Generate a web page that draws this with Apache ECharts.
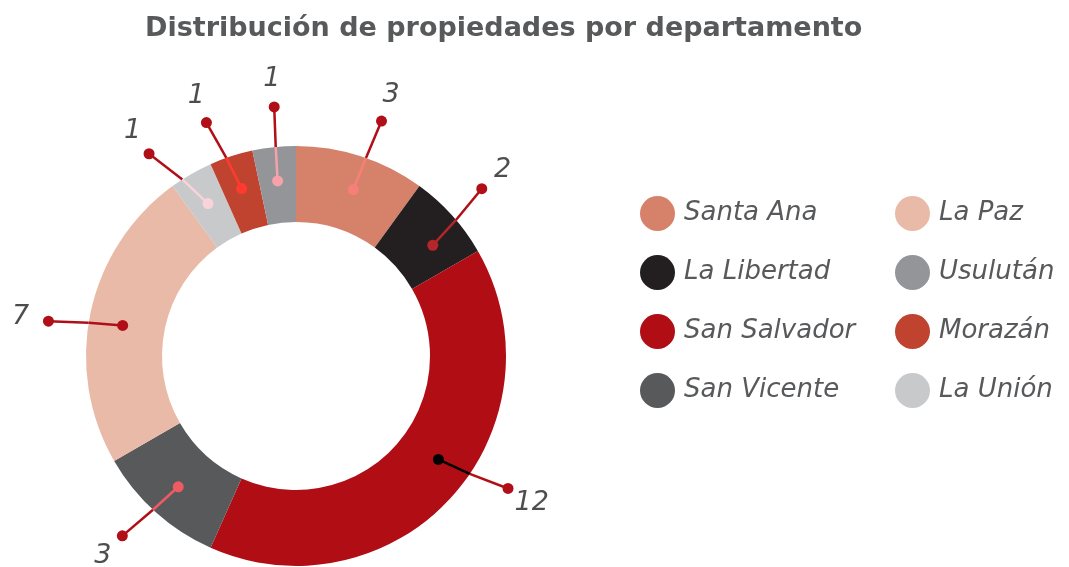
<!DOCTYPE html>
<html>
<head>
<meta charset="utf-8">
<script src="https://cdn.jsdelivr.net/npm/echarts@6/dist/echarts.min.js"></script>
<style>
  html, body { margin: 0; padding: 0; background: #ffffff; }
  #chart { width: 1069px; height: 567px; }
</style>
</head>
<body>
<div id="chart"></div>
<script>
// Departments, in clockwise order from the top of the ring
const categories = ['Santa Ana', 'La Libertad', 'San Salvador', 'San Vicente', 'La Paz', 'La Unión', 'Morazán', 'Usulután'];
const values = [3, 2, 12, 3, 7, 1, 1, 1];
const sliceColors = ['#d6826a', '#231f20', '#b00d15', '#58595b', '#e9baa8', '#c8c9cb', '#c0432f', '#939598'];
// colour of the leader-line part that sits on top of each slice
const innerColors = ['#f77f7a', '#b5262a', '#000000', '#f05a63', '#b00f17', '#f9d3da', '#ff3b30', '#f7a1aa'];
const legendLeft = ['Santa Ana', 'La Libertad', 'San Salvador', 'San Vicente'];
const legendRight = ['La Paz', 'Usulután', 'Morazán', 'La Unión'];

// leader-line tilt away from each slice's mid angle (degrees): inner dot / outer end
const innerTilt = [1, 3, -6, 0, -2, 0, 0, 0];
const outerTilt = [2, 0, -10, 2, -4, -6, -3, 1];

const CENTER = [296, 356];
const R_IN = 134, R_OUT = 210;
const R_DOT = 176, R_END = 250, R_LABEL = 278;
const LINE_RED = '#b00f17';

const total = values.reduce((a, b) => a + b, 0);
const mids = [];
let acc = 0;
values.forEach(v => { mids.push(acc + v / 2); acc += v; });
const deg = d => d * total / 360;
const innerAng = mids.map((m, i) => m + deg(innerTilt[i]));
const outerAng = mids.map((m, i) => m + deg(outerTilt[i]));

// angle where the leader crosses the outer rim (linear between inner and outer ends)
const rimAng = innerAng.map((a, i) => a + (outerAng[i] - a) * (R_OUT - R_DOT) / (R_END - R_DOT));

const series = [{
  type: 'pie',
  center: CENTER,
  radius: [R_IN, R_OUT],
  startAngle: 90,
  clockwise: true,
  label: { show: false },
  labelLine: { show: false },
  emphasis: { disabled: true },
  itemStyle: { borderWidth: 0 },
  z: 1,
  data: categories.map((name, i) => ({ name, value: values[i], itemStyle: { color: sliceColors[i] } }))
}];

categories.forEach((name, i) => {
  series.push({
    type: 'line', coordinateSystem: 'polar', silent: true, showSymbol: false, z: 3,
    lineStyle: { color: LINE_RED, width: 2.5 },
    data: [[R_OUT, rimAng[i]], [R_END, outerAng[i]]]
  });
  series.push({
    type: 'line', coordinateSystem: 'polar', silent: true, showSymbol: false, z: 3,
    lineStyle: { color: innerColors[i], width: 2.5 },
    data: [[R_DOT, innerAng[i]], [R_OUT, rimAng[i]]]
  });
});

series.push({
  type: 'scatter', coordinateSystem: 'polar', silent: true, z: 4,
  symbolSize: 11,
  data: innerAng.map((a, i) => ({ value: [R_DOT, a], itemStyle: { color: innerColors[i], opacity: 1 } }))
});
series.push({
  type: 'scatter', coordinateSystem: 'polar', silent: true, z: 4,
  symbolSize: 11,
  itemStyle: { color: LINE_RED, opacity: 1 },
  data: outerAng.map(a => [R_END, a])
});
series.push({
  type: 'scatter', coordinateSystem: 'polar', silent: true, z: 4,
  symbolSize: 0,
  label: {
    show: true, position: 'inside',
    fontFamily: 'DejaVu Sans', fontStyle: 'italic', fontSize: 27, color: '#231f20',
    formatter: p => values[p.dataIndex]
  },
  data: outerAng.map(a => [R_LABEL, a])
});

const legendBase = {
  orient: 'vertical',
  top: 191,
  icon: 'circle',
  itemWidth: 35,
  itemHeight: 35,
  itemGap: 24,
  selectedMode: false,
  textStyle: { fontFamily: 'DejaVu Sans', fontStyle: 'italic', fontSize: 26, color: '#58595b', padding: [0, 0, 0, 4] }
};

const chart = echarts.init(document.getElementById('chart'), null, { renderer: 'canvas' });
chart.setOption({
  animation: false,
  backgroundColor: '#ffffff',
  title: {
    text: 'Distribución de propiedades por departamento',
    left: 140, top: 10,
    textStyle: { fontFamily: 'DejaVu Sans', fontWeight: 'bold', fontSize: 27, color: '#58595b' }
  },
  polar: { center: CENTER, radius: 300 },
  angleAxis: { type: 'value', min: 0, max: total, startAngle: 90, clockwise: true, show: false },
  radiusAxis: { type: 'value', min: 0, max: 300, show: false },
  legend: [
    Object.assign({}, legendBase, { left: 635, data: legendLeft }),
    Object.assign({}, legendBase, { left: 890, data: legendRight })
  ],
  series
});
</script>
</body>
</html>
